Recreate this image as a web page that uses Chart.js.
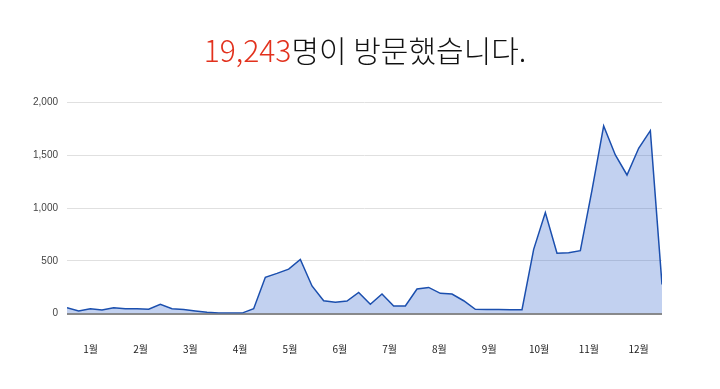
<!DOCTYPE html>
<html>
<head>
<meta charset="utf-8">
<script src="https://cdn.jsdelivr.net/npm/chart.js@4"></script>
<style>
  html, body { margin: 0; padding: 0; background: #fff; }
  #wrap { position: relative; width: 720px; height: 389px; overflow: hidden; }
  #title { position: absolute; left: 0; top: 25px; width: 730px; text-align: center;
           font-family: "Noto Sans CJK KR", sans-serif; font-weight: 300; font-size: 30px;
           line-height: 48px; color: #111; white-space: nowrap; }
  #title .num { color: #e2311d; }
  #c { position: absolute; left: 0; top: 0; }
</style>
</head>
<body>
<div id="wrap">
  <canvas id="c" width="720" height="389"></canvas>
  <div id="title"><span class="num">19,243</span>명이 방문했습니다.</div>
</div>
<script>
// weekly visitor counts
const weeklyVisitors = [55,24,46,33,55,46,46,40,87,46,39,24,11,5,5,4,46,343,380,420,512,261,121,106,118,200,87,185,71,71,232,247,191,185,121,40,38,37,35,36,608,956,572,575,596,1170,1778,1503,1313,1566,1733,275];
const monthLabels = ["1월","2월","3월","4월","5월","6월","7월","8월","9월","10월","11월","12월"];
const yTicks = [0, 500, 1000, 1500, 2000];

const points = weeklyVisitors.map((v, i) => ({ x: i, y: v }));
const monthFirst = 2.03, monthStep = 4.27;

new Chart(document.getElementById('c'), {
  type: 'line',
  data: {
    datasets: [{
      data: points,
      borderColor: '#1b4fae',
      borderWidth: 1.5,
      backgroundColor: 'rgba(58,108,205,0.31)',
      fill: 'origin',
      pointRadius: 0,
      tension: 0
    }]
  },
  options: {
    responsive: false,
    animation: false,
    layout: { padding: { top: 102.5, right: 58, left: 0, bottom: 0 } },
    plugins: { legend: { display: false }, tooltip: { enabled: false }, title: { display: false } },
    scales: {
      x: {
        type: 'linear',
        min: 0,
        max: weeklyVisitors.length - 1,
        grid: { display: false },
        border: { display: false },
        afterBuildTicks: (s) => { s.ticks = monthLabels.map((m, k) => ({ value: monthFirst + k * monthStep })); },
        afterFit: (s) => { s.height = 75.5; },
        ticks: {
          autoSkip: false,
          maxRotation: 0,
          padding: 22,
          color: '#222',
          font: { family: '"Noto Sans CJK KR", sans-serif', size: 10 },
          callback: (v, i) => monthLabels[i]
        }
      },
      y: {
        min: 0,
        max: 2000,
        afterBuildTicks: (s) => { s.ticks = yTicks.map(v => ({ value: v })); },
        afterFit: (s) => { s.width = 67; },
        grid: {
          drawTicks: false,
          color: (c) => c.tick && c.tick.value === 0 ? '#8a8a8a' : '#e0e0e0',
          lineWidth: (c) => c.tick && c.tick.value === 0 ? 2 : 1
        },
        border: { display: false },
        ticks: {
          padding: 9,
          color: '#444',
          font: { family: '"Liberation Sans", Arial, sans-serif', size: 10 },
          callback: (v) => v.toLocaleString('en-US')
        }
      }
    }
  }
});
</script>
</body>
</html>
